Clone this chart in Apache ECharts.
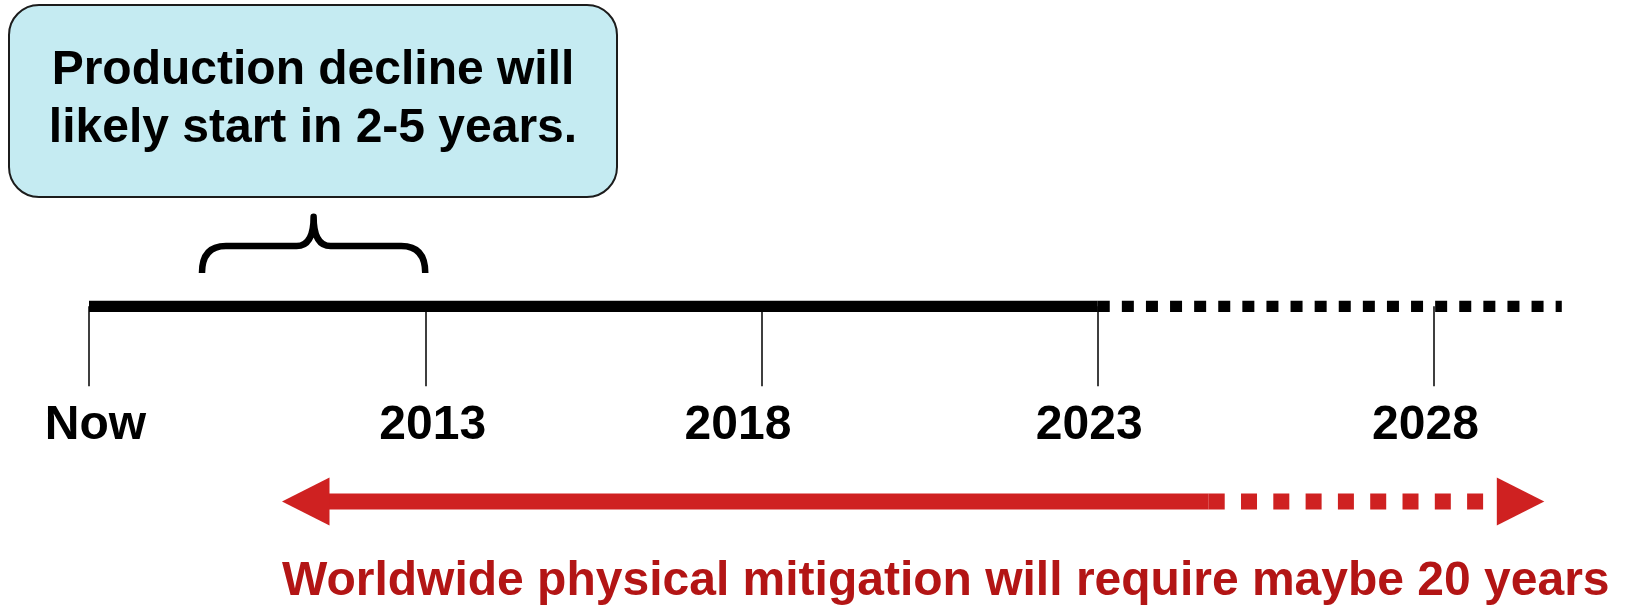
<!DOCTYPE html>
<html><head><meta charset="utf-8">
<script src="https://cdn.jsdelivr.net/npm/echarts@6/dist/echarts.min.js"></script>
<style>html,body{margin:0;padding:0;background:#fff}#c{width:1628px;height:609px}</style>
</head><body><div id="c"></div>
<script>
// ---- data ----
const tickYears = [2008, 2013, 2018, 2023, 2028];
const tickLabels = ['Now', '2013', '2018', '2023', '2028'];
const timelineSolid = [2008, 2023];
const timelineDotted = [2023, 2029.9];
const declineRange = [2009.68, 2013.0];
const mitigationSolid = [2010.87, 2024.65];
const mitigationDotted = [2024.65, 2029.64];
const boxText = ['Production decline will', 'likely start in 2-5 years.'];
const captionText = 'Worldwide physical mitigation will require maybe 20 years';

// ---- layout / style ----
const FONT = '"Liberation Sans", Arial, Helvetica, sans-serif';
const TL_Y = 306.3, TL_W = 11.3;
const AR_Y = 501.5, AR_W = 16, HEAD_L = 47.5, HEAD_H = 48;
const RED = '#cf2121', CAPTION_RED = '#b31515';
const LABEL_Y = 426;
const LABEL_DX = [6.5, 7.5, -23.5, -8.5, -8.5];
const BRACE = {bottom: 273, bar: 246, tip: 216.7, endR: 24, cusp: 17, width: 6.5};

const chart = echarts.init(document.getElementById('c'), null, {renderer: 'canvas'});
const X = (api, v) => api.coord([v, 0])[0];

const option = {
  animation: false,
  backgroundColor: '#fff',
  grid: {left: 89, right: 59.5, top: TL_Y, bottom: 40},
  xAxis: {
    type: 'value', min: 2008, max: 2030, position: 'top',
    axisLine: {show: false, onZero: false}, splitLine: {show: false},
    axisTick: {show: true, inside: true, length: 80, customValues: tickYears,
               lineStyle: {color: '#000', width: 1.5}},
    axisLabel: {show: false}
  },
  yAxis: {type: 'value', min: 0, max: 1, show: false},
  graphic: [
    {type: 'rect', shape: {x: 9, y: 5, width: 608, height: 192, r: 30},
     style: {fill: '#c5ebf2', stroke: '#1c1c1c', lineWidth: 2}},
    {type: 'text', x: 313, y: 71, style: {text: boxText[0], font: 'bold 48px ' + FONT,
      fill: '#000', textAlign: 'center', textVerticalAlign: 'middle'}},
    {type: 'text', x: 313, y: 129, style: {text: boxText[1], font: 'bold 48px ' + FONT,
      fill: '#000', textAlign: 'center', textVerticalAlign: 'middle'}},
    {type: 'text', x: 282, y: 582, style: {text: captionText, font: 'bold 48px ' + FONT,
      fill: CAPTION_RED, textAlign: 'left', textVerticalAlign: 'middle'}}
  ],
  series: [
    {
      type: 'custom', name: 'timeline', clip: false, silent: true,
      data: [[timelineSolid[0], timelineSolid[1], timelineDotted[1]]],
      renderItem: (p, api) => {
        const a = X(api, api.value(0)), b = X(api, api.value(1)), c = X(api, api.value(2));
        return {type: 'group', children: [
          {type: 'line', shape: {x1: a, y1: TL_Y, x2: b, y2: TL_Y},
           style: {stroke: '#000', lineWidth: TL_W, lineCap: 'butt'}},
          {type: 'line', shape: {x1: b, y1: TL_Y, x2: c, y2: TL_Y},
           style: {stroke: '#000', lineWidth: TL_W, lineCap: 'butt', lineDash: [12, 12.1]}}
        ]};
      }
    },
    {
      type: 'custom', name: 'brace', clip: false, silent: true,
      data: [declineRange],
      renderItem: (p, api) => {
        const L = X(api, api.value(0)), R = X(api, api.value(1)), M = (L + R) / 2;
        const B = BRACE;
        const d = `M${L},${B.bottom} Q${L},${B.bar} ${L + B.endR},${B.bar} L${M - B.cusp},${B.bar} ` +
                  `Q${M},${B.bar} ${M},${B.tip} Q${M},${B.bar} ${M + B.cusp},${B.bar} ` +
                  `L${R - B.endR},${B.bar} Q${R},${B.bar} ${R},${B.bottom}`;
        return {type: 'path', shape: {pathData: d},
                style: {fill: 'none', stroke: '#000', lineWidth: B.width, lineCap: 'butt', lineJoin: 'round'}};
      }
    },
    {
      type: 'custom', name: 'mitigation', clip: false, silent: true,
      data: [[mitigationSolid[0], mitigationSolid[1], mitigationDotted[1]]],
      renderItem: (p, api) => {
        const a = X(api, api.value(0)), b = X(api, api.value(1)), c = X(api, api.value(2));
        const h = HEAD_H / 2;
        return {type: 'group', children: [
          {type: 'line', shape: {x1: a + 20, y1: AR_Y, x2: b, y2: AR_Y},
           style: {stroke: RED, lineWidth: AR_W, lineCap: 'butt'}},
          {type: 'line', shape: {x1: b, y1: AR_Y, x2: c - HEAD_L, y2: AR_Y},
           style: {stroke: RED, lineWidth: AR_W, lineCap: 'butt', lineDash: [16, 16.3]}},
          {type: 'polygon', shape: {points: [[a, AR_Y], [a + HEAD_L, AR_Y - h], [a + HEAD_L, AR_Y + h]]},
           style: {fill: RED}},
          {type: 'polygon', shape: {points: [[c, AR_Y], [c - HEAD_L, AR_Y - h], [c - HEAD_L, AR_Y + h]]},
           style: {fill: RED}}
        ]};
      }
    },
    {
      type: 'custom', name: 'tickLabels', clip: false, silent: true,
      data: tickYears.map((y, i) => [y, i]),
      renderItem: (p, api) => {
        const i = api.value(1);
        return {type: 'text', x: X(api, api.value(0)) + LABEL_DX[i], y: LABEL_Y,
                style: {text: tickLabels[i], font: 'bold 48px ' + FONT, fill: '#000',
                        textAlign: 'center', textVerticalAlign: 'middle'}};
      }
    }
  ]
};
chart.setOption(option);
</script>
</body></html>
